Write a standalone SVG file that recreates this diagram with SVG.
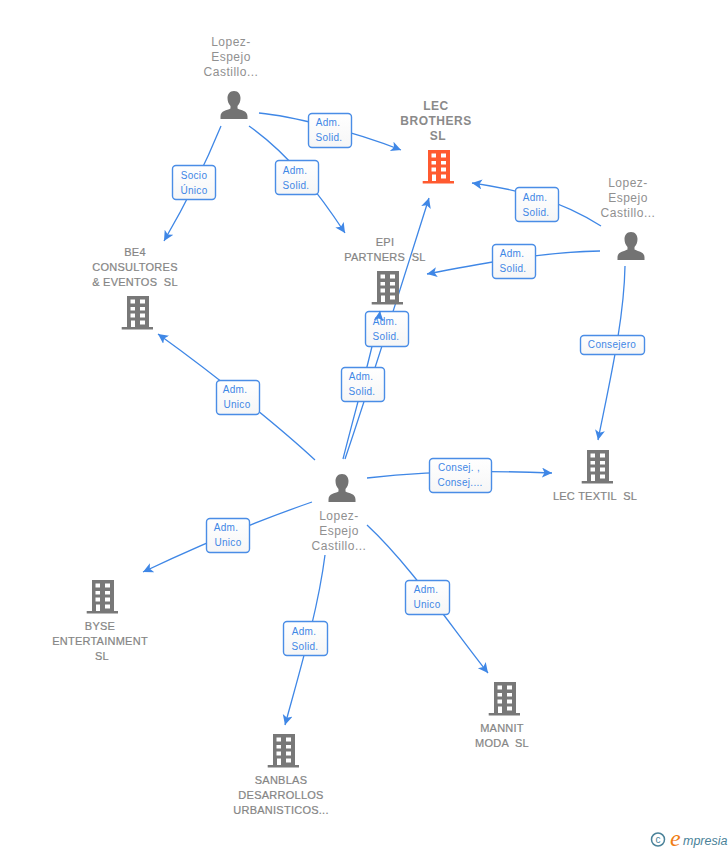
<svg xmlns="http://www.w3.org/2000/svg" width="728" height="850" viewBox="0 0 728 850">
<style>
text{font-family:"Liberation Sans",Arial,sans-serif}
.p{font-size:12px;fill:#909090;text-anchor:middle;letter-spacing:.5px}
.c{font-size:11px;fill:#858585;text-anchor:middle;letter-spacing:.25px;white-space:pre;stroke:#858585;stroke-width:.2}
.h{font-size:12px;font-weight:bold;fill:#8a8a8a;text-anchor:middle;letter-spacing:.5px}
.e{fill:none;stroke:#3f87e6;stroke-width:1.3;marker-end:url(#a)}
.b{fill:url(#g);stroke:#4a8de6;stroke-width:1.4}
.l{font-size:10px;fill:#3f87e6;text-anchor:middle;letter-spacing:.3px}
</style>
<defs>
<linearGradient id="g" x1="0" y1="0" x2="0" y2="1"><stop offset="0" stop-color="#fff"/><stop offset="1" stop-color="#f6f6f6"/></linearGradient>
<marker id="a" markerUnits="userSpaceOnUse" markerWidth="12" markerHeight="12" refX="10" refY="5" orient="auto"><path d="M0 0L10 5L0 10L2.500 5Z" fill="#3f87e6"/></marker>
<symbol id="h" viewBox="0 0 32 34" overflow="visible"><path d="M6 0H28V31H32V33.500H0.700V31H6Z M9.500 3.500V7.500H14V3.500Z M19 3.500V7.500H24V3.500Z M9.500 11V14.500H14V11Z M19 11V14.500H24V11Z M9.500 17.500V21.500H14V17.500Z M19 17.500V21.500H24V17.500Z M10 24.500V31H14V24.500Z M19 24.500V28.500H24V24.500Z" fill-rule="evenodd"/></symbol>
<symbol id="u" viewBox="0 0 28 29" overflow="visible"><path d="M14 0C18.500 0 20.500 3.500 20.500 7C20.500 10 19.500 13 17.500 15V17.500C21 19.500 27.500 19.500 27.500 25.500V28H0.500V25.500C0.500 19.500 7 19.500 10.500 17.500V15C8.500 13 7.500 10 7.500 7C7.500 3.500 9.500 0 14 0Z" fill="#737373"/></symbol>
</defs>
<rect width="728" height="850" fill="#fff"/>
<g id="connectors">
<path class="e" d="M259 113C290 116 350 130 401 150"/>
<path class="e" d="M221 126C205 165 185 205 164 241"/>
<path class="e" d="M249 126C290 155 320 195 345 233"/>
<path class="e" d="M601 226C560 200 520 190 472 183"/>
<path class="e" d="M600 251C540 252 480 264 427 274"/>
<path class="e" d="M625 266C624 320 610 380 598 440"/>
<path class="e" d="M345 459C365 400 400 290 429 198"/>
<path class="e" d="M343 459C358 400 370 360 380 311"/>
<path class="e" d="M315 460C285 432 222 380 158 334"/>
<path class="e" d="M367 478C420 472 480 470 552 473"/>
<path class="e" d="M312 502C260 520 200 545 143 572"/>
<path class="e" d="M325 555C318 610 300 670 285 725"/>
<path class="e" d="M367 525C410 565 450 625 488 673"/>
</g>
<g id="n1"><text class="p" x="231" y="46">Lopez-</text><text class="p" x="231" y="61">Espejo</text><text class="p" x="231" y="76">Castillo...</text><use href="#u" x="220" y="91" width="28" height="29"/></g>
<g id="n2"><text class="h" x="436" y="110">LEC</text><text class="h" x="436" y="125">BROTHERS</text><text class="h" x="438" y="140">SL</text><use href="#h" x="422" y="150" width="32" height="34" fill="#ff5a30"/></g>
<g id="n3"><text class="p" x="628" y="187">Lopez-</text><text class="p" x="628" y="202">Espejo</text><text class="p" x="628" y="217">Castillo...</text><use href="#u" x="617" y="232" width="28" height="29"/></g>
<g id="n4"><text class="c" x="135" y="256">BE4</text><text class="c" x="135" y="271">CONSULTORES</text><text class="c" x="135" y="286">&amp; EVENTOS  SL</text><use href="#h" x="121" y="296" width="32" height="34" fill="#787878"/></g>
<g id="n5"><text class="c" x="385" y="246">EPI</text><text class="c" x="385" y="261">PARTNERS  SL</text><use href="#h" x="371" y="271" width="32" height="34" fill="#787878"/></g>
<g id="n6"><use href="#u" x="328" y="474" width="28" height="29"/><text class="p" x="339" y="520">Lopez-</text><text class="p" x="339" y="535">Espejo</text><text class="p" x="339" y="550">Castillo...</text></g>
<g id="n7"><use href="#h" x="581" y="450" width="32" height="34" fill="#787878"/><text class="c" x="595" y="500">LEC TEXTIL  SL</text></g>
<g id="n8"><use href="#h" x="86" y="580" width="32" height="34" fill="#787878"/><text class="c" x="100" y="630">BYSE</text><text class="c" x="100" y="645">ENTERTAINMENT</text><text class="c" x="102" y="660">SL</text></g>
<g id="n9"><use href="#h" x="267" y="734" width="32" height="34" fill="#787878"/><text class="c" x="281" y="784">SANBLAS</text><text class="c" x="281" y="799">DESARROLLOS</text><text class="c" x="281" y="814">URBANISTICOS...</text></g>
<g id="n10"><use href="#h" x="488" y="682" width="32" height="34" fill="#787878"/><text class="c" x="502" y="732">MANNIT</text><text class="c" x="502" y="747">MODA  SL</text></g>
<g id="labels">
<g><rect class="b" x="308.500" y="113.500" width="43" height="34" rx="3.500"/><text class="l" x="328" y="126">Adm.</text><text class="l" x="329" y="141">Solid.</text></g>
<g><rect class="b" x="172.500" y="165.500" width="43" height="34" rx="3.500"/><text class="l" x="194" y="179">Socio</text><text class="l" x="194" y="194">Único</text></g>
<g><rect class="b" x="275.500" y="160.500" width="43" height="34" rx="3.500"/><text class="l" x="295" y="174">Adm.</text><text class="l" x="296" y="189">Solid.</text></g>
<g><rect class="b" x="515.500" y="187.500" width="43" height="34" rx="3.500"/><text class="l" x="535" y="201">Adm.</text><text class="l" x="536" y="216">Solid.</text></g>
<g><rect class="b" x="492.500" y="244.500" width="43" height="34" rx="3.500"/><text class="l" x="512" y="257">Adm.</text><text class="l" x="513" y="272">Solid.</text></g>
<g><rect class="b" x="580.500" y="335.500" width="64" height="19" rx="3.500"/><text class="l" x="612" y="348">Consejero</text></g>
<g><rect class="b" x="365.500" y="311.500" width="43" height="35" rx="3.500"/><text class="l" x="385" y="325">Adm.</text><text class="l" x="386" y="340">Solid.</text></g>
<g><rect class="b" x="341.500" y="367.500" width="43" height="34" rx="3.500"/><text class="l" x="361" y="380">Adm.</text><text class="l" x="362" y="395">Solid.</text></g>
<g><rect class="b" x="216.500" y="380.500" width="43" height="34" rx="3.500"/><text class="l" x="235" y="393">Adm.</text><text class="l" x="237" y="408">Unico</text></g>
<g><rect class="b" x="429.500" y="458.500" width="62" height="34" rx="3.500"/><text class="l" x="459" y="471">Consej. ,</text><text class="l" x="460" y="486">Consej....</text></g>
<g><rect class="b" x="206.500" y="518.500" width="43" height="34" rx="3.500"/><text class="l" x="226" y="531">Adm.</text><text class="l" x="228" y="546">Unico</text></g>
<g><rect class="b" x="283.500" y="621.500" width="44" height="34" rx="3.500"/><text class="l" x="304" y="635">Adm.</text><text class="l" x="305" y="650">Solid.</text></g>
<g><rect class="b" x="405.500" y="580.500" width="44" height="34" rx="3.500"/><text class="l" x="426" y="593">Adm.</text><text class="l" x="427" y="608">Unico</text></g>
</g>
<path class="e" d="M379 318L380 311"/>
<g id="logo"><circle cx="658" cy="839.500" r="6.500" fill="none" stroke="#4a8299" stroke-width="1.500"/><text x="658" y="843" font-size="10" fill="#4a8299" text-anchor="middle">c</text><text x="670" y="846" font-size="24" font-style="italic" fill="#f07d14" style="font-family:'Liberation Serif',serif">e</text><text x="683" y="845" font-size="12.500" font-style="italic" fill="#4a8299">mpresia</text></g>
</svg>
